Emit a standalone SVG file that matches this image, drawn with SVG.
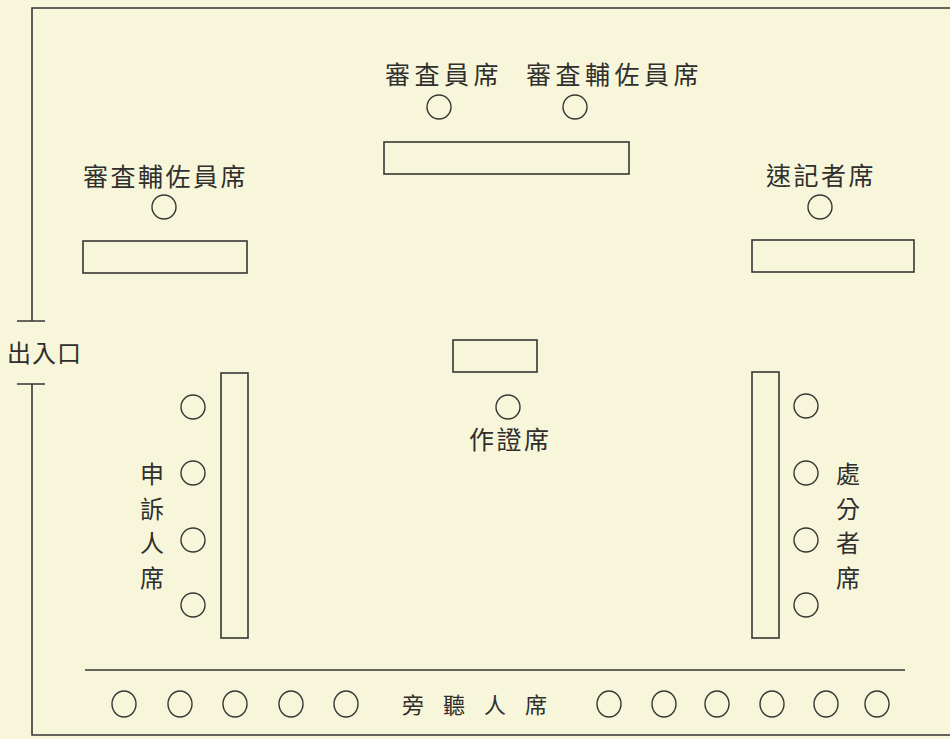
<svg xmlns="http://www.w3.org/2000/svg" width="950" height="739" viewBox="0 0 950 739">
<style>
.bg{fill:#f8f6da}
.ln{stroke:#363634;stroke-width:1.6;fill:none}
.seat{stroke:#363634;stroke-width:1.4;fill:none}
.desk{stroke:#363634;stroke-width:1.6;fill:none}
.t{font-family:"Noto Sans CJK TC","Noto Sans CJK JP",sans-serif;font-size:25px;fill:#2f2f2d;letter-spacing:2.5px}
.top{letter-spacing:4.5px}
.v{font-family:"Noto Sans CJK TC","Noto Sans CJK JP",sans-serif;font-size:24px;fill:#2f2f2d;text-anchor:middle}
</style>
<rect class="bg" x="0" y="0" width="950" height="739"/>
<g id="frame">
<path class="ln" d="M950 8 H32 V321 M17 321 H45 M17 384 H45 M32 384 V735 H950"/>
</g>
<g id="entrance"><text class="t" x="7" y="362" style="font-size:24px;letter-spacing:1px">出入口</text></g>
<g id="examiner">
<text class="t top" x="385" y="84">審査員席</text>
<circle class="seat" cx="439" cy="107" r="12"/>
</g>
<g id="assistant-top">
<text class="t top" x="526" y="84">審査輔佐員席</text>
<circle class="seat" cx="575" cy="107" r="12"/>
</g>
<g id="top-desk"><rect class="desk" x="384" y="142" width="245" height="32"/></g>
<g id="assistant-left">
<text class="t" x="83" y="186">審査輔佐員席</text>
<circle class="seat" cx="164" cy="207" r="12"/>
<rect class="desk" x="83" y="241" width="164" height="32"/>
</g>
<g id="stenographer">
<text class="t" x="766" y="185">速記者席</text>
<circle class="seat" cx="820" cy="207" r="12"/>
<rect class="desk" x="752" y="240" width="162" height="32"/>
</g>
<g id="witness">
<rect class="desk" x="453" y="340" width="84" height="32"/>
<circle class="seat" cx="508" cy="407" r="12"/>
<text class="t" x="469" y="449">作證席</text>
</g>
<g id="appellant">
<rect class="desk" x="221" y="373" width="27" height="265"/>
<circle class="seat" cx="193" cy="407" r="12"/>
<circle class="seat" cx="193" cy="473" r="12"/>
<circle class="seat" cx="193" cy="540" r="12"/>
<circle class="seat" cx="193" cy="605" r="12"/>
<text class="v" x="152" y="483">申</text>
<text class="v" x="152" y="518">訴</text>
<text class="v" x="152" y="552">人</text>
<text class="v" x="152" y="587">席</text>
</g>
<g id="respondent">
<rect class="desk" x="752" y="372" width="27" height="266"/>
<circle class="seat" cx="806" cy="406" r="12"/>
<circle class="seat" cx="806" cy="473" r="12"/>
<circle class="seat" cx="806" cy="540" r="12"/>
<circle class="seat" cx="806" cy="605" r="12"/>
<text class="v" x="848" y="483">處</text>
<text class="v" x="848" y="518">分</text>
<text class="v" x="848" y="552">者</text>
<text class="v" x="848" y="587">席</text>
</g>
<g id="gallery">
<line class="ln" x1="85" y1="670" x2="905" y2="670"/>
<ellipse class="seat" cx="124" cy="704" rx="12" ry="13"/>
<ellipse class="seat" cx="180" cy="704" rx="12" ry="13"/>
<ellipse class="seat" cx="235" cy="704" rx="12" ry="13"/>
<ellipse class="seat" cx="291" cy="704" rx="12" ry="13"/>
<ellipse class="seat" cx="346" cy="704" rx="12" ry="13"/>
<text class="t" x="402" y="713" style="letter-spacing:19px;font-size:22px">旁聽人席</text>
<ellipse class="seat" cx="609" cy="704" rx="12" ry="13"/>
<ellipse class="seat" cx="664" cy="704" rx="12" ry="13"/>
<ellipse class="seat" cx="717" cy="704" rx="12" ry="13"/>
<ellipse class="seat" cx="772" cy="704" rx="12" ry="13"/>
<ellipse class="seat" cx="826" cy="704" rx="12" ry="13"/>
<ellipse class="seat" cx="877" cy="704" rx="12" ry="13"/>
</g>
</svg>
